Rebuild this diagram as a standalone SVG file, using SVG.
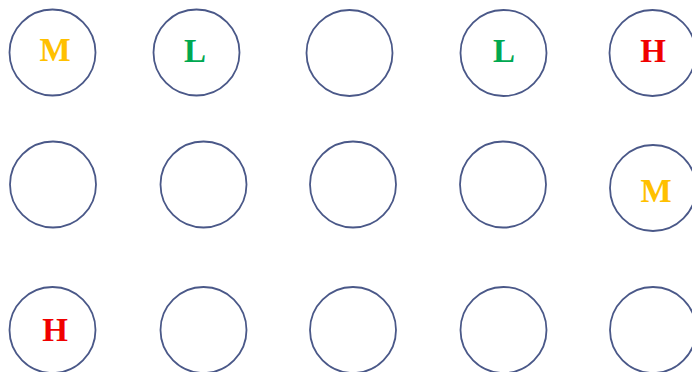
<svg xmlns="http://www.w3.org/2000/svg" width="692" height="372" viewBox="0 0 692 372">
<style>
.c{fill:#fff;stroke:#4A5888;stroke-width:1.8}
.t{font-family:"Liberation Serif","Times New Roman",serif;font-weight:bold;font-size:33px;text-anchor:middle}
.m{fill:#FFC000}.l{fill:#00A850}.h{fill:#F00000}
</style>
<rect width="692" height="372" fill="#fff"/>
<g id="n11"><circle class="c" cx="52.5" cy="52.5" r="43"/><text class="t m" x="55" y="60.5">M</text></g>
<g id="n12"><circle class="c" cx="196.5" cy="52.5" r="43"/><text class="t l" x="195" y="62">L</text></g>
<g id="n13"><circle class="c" cx="349.5" cy="53" r="43"/></g>
<g id="n14"><circle class="c" cx="503.5" cy="53" r="43"/><text class="t l" x="504" y="62">L</text></g>
<g id="n15"><circle class="c" cx="652.5" cy="53" r="43"/><text class="t h" x="653" y="62">H</text></g>
<g id="n21"><circle class="c" cx="53" cy="184.5" r="43"/></g>
<g id="n22"><circle class="c" cx="203.5" cy="184.5" r="43"/></g>
<g id="n23"><circle class="c" cx="353" cy="184.5" r="43"/></g>
<g id="n24"><circle class="c" cx="503" cy="184.5" r="43"/></g>
<g id="n25"><circle class="c" cx="653" cy="188" r="43"/><text class="t m" x="656" y="202">M</text></g>
<g id="n31"><circle class="c" cx="52.5" cy="330" r="43"/><text class="t h" x="55" y="340.5">H</text></g>
<g id="n32"><circle class="c" cx="203.5" cy="330" r="43"/></g>
<g id="n33"><circle class="c" cx="353" cy="330" r="43"/></g>
<g id="n34"><circle class="c" cx="503.5" cy="330" r="43"/></g>
<g id="n35"><circle class="c" cx="653" cy="330" r="43"/></g>
<g id="connectors"></g>
</svg>
